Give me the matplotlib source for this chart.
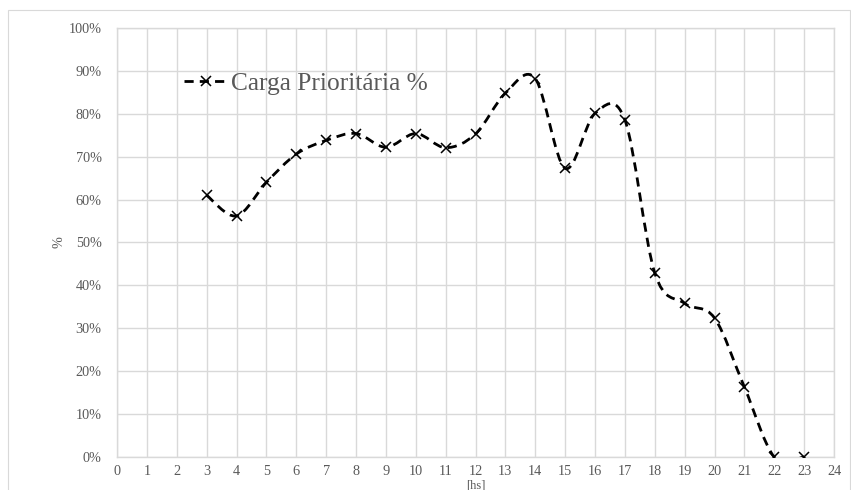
import numpy as np
import matplotlib.pyplot as plt
from matplotlib.path import Path
from matplotlib.patches import PathPatch, Rectangle
from matplotlib.lines import Line2D

# données
horas = [3, 4, 5, 6, 7, 8, 9, 10, 11, 12, 13, 14, 15, 16, 17, 18, 19, 20, 21, 22, 23]
carga = [61.0, 56.2, 64.0, 70.6, 73.8, 75.4, 72.2, 75.4, 72.1, 75.3, 84.8, 88.2,
         67.3, 80.1, 78.6, 42.9, 35.8, 32.4, 16.3, 0.0, 0.0]
xticks = list(range(0, 25))
yticks = list(range(0, 101, 10))
yticklabels = [f"{v}%" for v in yticks]

plt.rcParams['font.family'] = ['Liberation Serif', 'DejaVu Serif']
cinza = "#595959"
grade = "#d9d9d9"

fig = plt.figure(figsize=(8.51, 4.90), dpi=100)
fig.patches.append(Rectangle((8 / 851, -0.01), 842 / 851, 1 - 10 / 490 + 0.01,
                             transform=fig.transFigure, fill=False,
                             edgecolor=grade, linewidth=0.8))
ax = fig.add_axes([117 / 851, 1 - 457 / 490, (834 - 117) / 851, (457 - 28) / 490])

# courbe lissée (bezier style Excel)
pts = np.column_stack([horas, carga])
n = len(pts)
verts = [tuple(pts[0])]
codes = [Path.MOVETO]
for i in range(n - 1):
    p0 = pts[max(i - 1, 0)]
    p1 = pts[i]
    p2 = pts[i + 1]
    p3 = pts[min(i + 2, n - 1)]
    c1 = p1 + (p2 - p0) / 6
    c2 = p2 - (p3 - p1) / 6
    verts += [tuple(c1), tuple(c2), tuple(p2)]
    codes += [Path.CURVE4] * 3
estilo = (0, (3.3, 2.2))
ax.add_patch(PathPatch(Path(verts, codes), facecolor="none", edgecolor="black",
                       linewidth=2.0, linestyle=estilo, zorder=3))
ax.plot(horas, carga, linestyle="none", marker="x", color="black",
        markersize=6.5, markeredgewidth=1.1, zorder=4)

ax.set_xlim(0, 24)
ax.set_ylim(0, 100)
ax.set_xticks(xticks)
ax.set_yticks(yticks)
ax.set_yticklabels(yticklabels)
ax.grid(True, color=grade, linewidth=1)
ax.set_axisbelow(True)
for s in ax.spines.values():
    s.set_color(grade)
    s.set_linewidth(1)
ax.tick_params(length=0, labelsize=10.3, labelcolor=cinza)
ax.tick_params(axis="x", pad=6)
ax.tick_params(axis="y", pad=11)
ax.set_ylabel("%", fontsize=10.3, color=cinza, labelpad=2)
ax.set_xlabel("[hs]", fontsize=9, color=cinza)
ax.xaxis.set_label_coords(0.5, -0.052)

proxy = Line2D([], [], color="black", linewidth=2.0, linestyle=estilo,
               marker="x", markersize=6.5, markeredgewidth=1.1)
leg = ax.legend([proxy], ["Carga Prioritária %"], loc="center left",
                bbox_to_anchor=(57 / 717, 1 - (84 - 28) / 429), frameon=False,
                fontsize=18.3, handlelength=1.75, handletextpad=0.1, borderaxespad=0)
for t in leg.get_texts():
    t.set_color(cinza)

fig.savefig("out.png", dpi=100)
